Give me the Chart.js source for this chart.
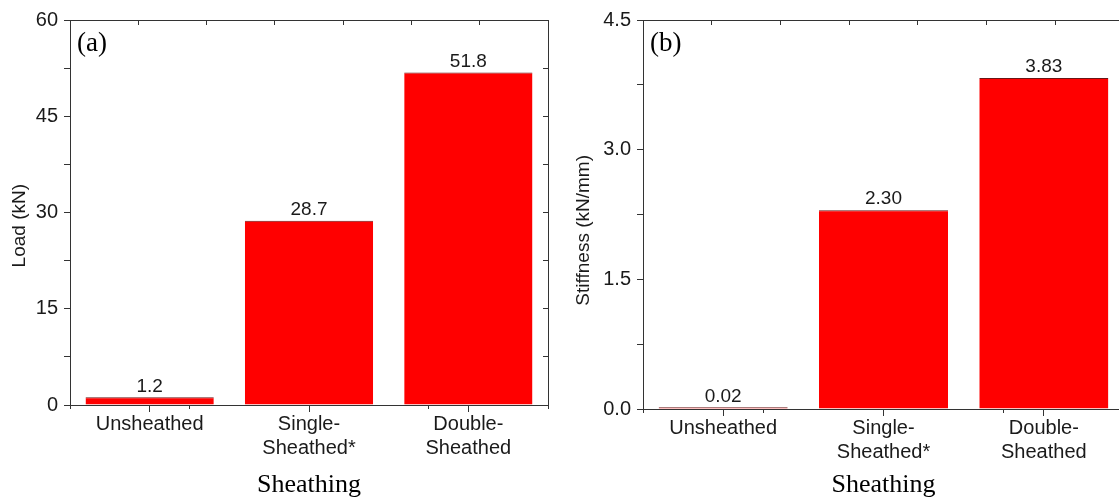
<!DOCTYPE html>
<html>
<head>
<meta charset="utf-8">
<script src="https://cdn.jsdelivr.net/npm/chart.js@4.4.1/dist/chart.umd.min.js"></script>
<style>
html, body { margin: 0; padding: 0; background: #fff; overflow: hidden; }
#wrap { position: relative; width: 1119px; height: 501px; overflow: hidden; }
#loadChart { position: absolute; left: 0; top: 0; }
#stiffChart { position: absolute; left: 560px; top: 0; }
</style>
</head>
<body>
<div id="wrap">
	<canvas id="loadChart" width="560" height="501"></canvas>
	<canvas id="stiffChart" width="570" height="501"></canvas>
</div>
<script>
// data
var categories = [['Unsheathed'], ['Single-', 'Sheathed*'], ['Double-', 'Sheathed']];
var loadValues = [1.2, 28.7, 51.8];
var stiffnessValues = [0.02, 2.30, 3.83];
var loadTicks = [0, 15, 30, 45, 60];
var stiffnessTicks = [0, 1.5, 3.0, 4.5];

var sans = "'Liberation Sans', Arial, sans-serif";
var serif = "'Liberation Serif', 'Times New Roman', serif";
var axisColor = '#333';
var textColor = '#1a1a1a';

// numbers above the bars
var barValues = {
	id: 'barValues',
	afterDatasetsDraw: function(chart, args, opts) {
		var ctx = chart.ctx;
		var meta = chart.getDatasetMeta(0);
		var data = chart.data.datasets[0].data;
		ctx.save();
		ctx.fillStyle = textColor;
		ctx.font = '19px ' + sans;
		ctx.textAlign = 'center';
		ctx.textBaseline = 'middle';
		meta.data.forEach(function(bar, i) {
			ctx.fillText(data[i].toFixed(opts.digits), bar.x, bar.y - 11);
		});
		ctx.restore();
	}
};

// (a) / (b)
var panelLabel = {
	id: 'panelLabel',
	afterDraw: function(chart, args, opts) {
		var ctx = chart.ctx;
		ctx.save();
		ctx.fillStyle = '#000';
		ctx.font = '27px ' + serif;
		ctx.textAlign = 'left';
		ctx.textBaseline = 'middle';
		ctx.fillText(opts.text, chart.chartArea.left + 7, chart.chartArea.top + 24);
		ctx.restore();
	}
};

function frameTicks(count, step) {
	var out = [];
	for (var v = -0.5; v <= count - 0.5 + 1e-9; v += step) out.push({value: v});
	return out;
}

function makeChart(id, values, cfg) {
	var ctx = document.getElementById(id);
	var n = categories.length;
	return new Chart(ctx, {
		type: 'bar',
		data: {
			labels: categories,
			datasets: [{
				data: values,
				backgroundColor: '#ff0000',
				borderColor: '#6b1616',
				borderWidth: {top: 1, right: 0, bottom: 0, left: 0},
				barPercentage: 0.805,
				categoryPercentage: 1.0
			}]
		},
		options: {
			responsive: false,
			animation: false,
			layout: {padding: {top: 20, right: cfg.padRight, bottom: 0, left: 0}},
			plugins: {
				legend: {display: false},
				tooltip: {enabled: false},
				barValues: {digits: cfg.digits},
				panelLabel: {text: cfg.panel}
			},
			scales: {
				x: {
					type: 'category',
					position: 'bottom',
					offset: true,
					grid: {offset: false, drawOnChartArea: false, color: axisColor, tickLength: 7},
					border: {color: axisColor, width: 1},
					ticks: {color: textColor, font: {family: sans, size: 20, lineHeight: 1.2}, padding: 0, maxRotation: 0, autoSkip: false},
					title: {display: true, text: 'Sheathing', color: '#000', font: {family: serif, size: 26}, padding: {top: 0, bottom: 0}},
					afterFit: function(s) { s.height = cfg.xHeight; }
				},
				xMinor: {
					type: 'linear',
					position: 'bottom',
					weight: -1,
					min: -0.5, max: n - 0.5,
					grid: {drawOnChartArea: false, color: axisColor, tickLength: 4},
					border: {display: false},
					ticks: {display: false},
					afterBuildTicks: function(s) { s.ticks = frameTicks(n, 1); },
					afterFit: function(s) { s.height = 0; }
				},
				xTop: {
					type: 'linear',
					position: 'top',
					min: -0.5, max: n - 0.5,
					grid: {drawOnChartArea: false, color: axisColor, tickLength: -5},
					border: {color: axisColor, width: 1},
					ticks: {display: false},
					afterBuildTicks: function(s) { s.ticks = frameTicks(n, 0.5); },
					afterFit: function(s) { s.height = 0; }
				},
				y: {
					position: 'left',
					min: 0, max: cfg.max,
					grid: {drawOnChartArea: false, color: axisColor, tickLength: 6},
					border: {color: axisColor, width: 1},
					ticks: {
						stepSize: cfg.step / 2,
						autoSkip: false,
						padding: 6,
						color: textColor,
						font: {family: sans, size: 20},
						callback: function(v) {
							return cfg.tickList.indexOf(v) >= 0 ? v.toFixed(cfg.tickDigits) : '';
						}
					},
					title: {display: true, text: cfg.yTitle, color: textColor, font: {family: sans, size: 19}, padding: {top: cfg.yTitlePad, bottom: 0}},
					afterFit: function(s) { s.width = cfg.yWidth; }
				},
				yRight: {
					position: 'right',
					min: 0, max: cfg.max,
					grid: {drawOnChartArea: false, color: axisColor, tickLength: -5},
					border: {color: axisColor, width: 1},
					ticks: {stepSize: cfg.step / 2, display: false},
					afterFit: function(s) { s.width = 0; }
				}
			}
		},
		plugins: [barValues, panelLabel]
	});
}

makeChart('loadChart', loadValues, {
	max: 60, step: 15, tickList: loadTicks, tickDigits: 0, digits: 1,
	yTitle: 'Load (kN)     ', yTitlePad: 8, yWidth: 70,
	xHeight: 96, padRight: 12, panel: '(a)'
});

makeChart('stiffChart', stiffnessValues, {
	max: 4.5, step: 1.5, tickList: stiffnessTicks, tickDigits: 1, digits: 2,
	yTitle: 'Stiffness (kN/mm)      ', yTitlePad: 12, yWidth: 83,
	xHeight: 92, padRight: 6, panel: '(b)'
});
</script>
</body>
</html>
